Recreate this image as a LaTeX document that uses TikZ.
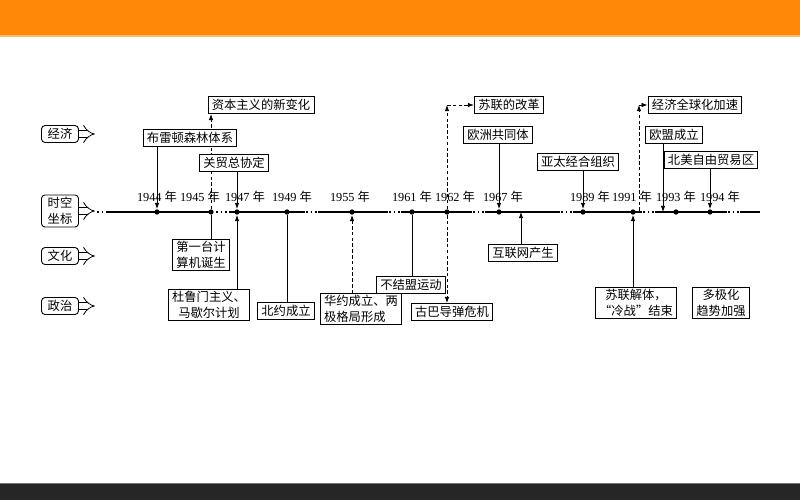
\documentclass[tikz,border=0pt]{standalone}
\usepackage{fontspec}
\setmainfont{Liberation Serif}
\newfontfamily\cjk{Noto Sans CJK SC}
\usetikzlibrary{positioning}
\usetikzlibrary{arrows.meta}
\usetikzlibrary{backgrounds}
\newcommand{\nian}[1]{#1 {\cjk 年}}
\definecolor{barorange}{RGB}{255,136,8}
\definecolor{bardark}{RGB}{38,38,38}
\tikzset{
	event/.style={draw, rectangle, fill=white, line width=0.5pt, inner xsep=2.2pt, inner ysep=1pt, minimum height=0.34cm, align=center, font=\cjk\fontsize{7}{8.8}\selectfont},
	field/.style={draw, rectangle, rounded corners=2pt, fill=white, line width=0.5pt, inner sep=1.5pt, minimum width=0.74cm, minimum height=0.34cm, align=center, font=\cjk\fontsize{7}{8.8}\selectfont},
	yearlbl/.style={inner sep=0pt, font=\fontsize{7}{8}\selectfont},
	yeardot/.style={circle, fill=black, inner sep=0pt, minimum size=3pt},
	% connectors
	plain/.style={line width=0.5pt},
	link/.style={line width=0.5pt, -{Latex[length=3.5pt, width=2.6pt]}},
	dplain/.style={plain, dash pattern=on 2pt off 1.3pt},
	dlink/.style={link, dash pattern=on 2pt off 1.3pt},
	hollow/.style={double, double distance=3.2pt, line width=0.45pt, -{Implies[scale=1.5]}},
	timeline/.style={line width=0.6pt},
	gapline/.style={line width=0.9pt, dash pattern=on 0.9pt off 1.7pt},
}
\begin{document}
\begin{tikzpicture}[x=0.02cm, y=-0.02cm]
	\useasboundingbox (0,0) rectangle (800,500);
	
	% fields on the left
	\node (econ) [field] at (60,134) {经济};
	\node (time) [field] at (60,211) {时空\\坐标};
	\node (cult) [field] at (60,256) {文化};
	\node (pol) [field] at (60,306) {政治};
	\coordinate [right=0.32cm of econ] (econa);
	\coordinate [right=0.32cm of time] (timea);
	\coordinate [right=0.32cm of cult] (culta);
	\coordinate [right=0.32cm of pol] (pola);
	
	% years
	\node (d44) [yeardot] at (157,212) {};
	\node (d45) [yeardot] at (211,212) {};
	\node (d47) [yeardot] at (237,212) {};
	\node (d49) [yeardot] at (287,212) {};
	\node (d55) [yeardot] at (352,212) {};
	\node (d61) [yeardot] at (412,212) {};
	\node (d62) [yeardot] at (447,212) {};
	\node (d67) [yeardot] at (499,212) {};
	\node (d89) [yeardot] at (583,212) {};
	\node (d91) [yeardot] at (633,212) {};
	\node (d93) [yeardot] at (676,212) {};
	\node (d94) [yeardot] at (710,212) {};
	\coordinate (netp) at (521,212);
	\coordinate (eup) at (663,212);
	\coordinate (up91) at (639,211);
	
	\node (y44) [yearlbl] at (157,197) {\nian{1944}};
	\node (y45) [yearlbl] at (200,197) {\nian{1945}};
	\node (y47) [yearlbl] at (245,197) {\nian{1947}};
	\node (y49) [yearlbl] at (292,197) {\nian{1949}};
	\node (y55) [yearlbl] at (350,197) {\nian{1955}};
	\node (y61) [yearlbl] at (412,197) {\nian{1961}};
	\node (y62) [yearlbl] at (455,197) {\nian{1962}};
	\node (y67) [yearlbl] at (503,197) {\nian{1967}};
	\node (y89) [yearlbl] at (590,197) {\nian{1989}};
	\node (y91) [yearlbl] at (632,197) {\nian{1991}};
	\node (y93) [yearlbl] at (676,197) {\nian{1993}};
	\node (y94) [yearlbl] at (720,197) {\nian{1994}};
	
	% economy
	\node (capit) [event] at (261,105) {资本主义的新变化};
	\node (ussr) [event] at (509,105) {苏联的改革};
	\node (glob) [event] at (695,105) {经济全球化加速};
	\node (brt) [event] at (190,138) {布雷顿森林体系};
	\node (eec) [event] at (498,135) {欧洲共同体};
	\node (eu) [event] at (674,135) {欧盟成立};
	\node (gatt) [event] at (234,163) {关贸总协定};
	\node (apec) [event] at (578,162) {亚太经合组织};
	\node (nafta) [event] at (711,160) {北美自由贸易区};
	
	% culture and politics
	\node (first) [event] at (201,255) {第一台计\\算机诞生};
	\node (net) [event] at (523,253) {互联网产生};
	\node (truman) [event] at (209,305) {杜鲁门主义、\\马歇尔计划};
	\node (nato) [event] at (286,311) {北约成立};
	\node (warsaw) [event, align=left] at (361,309) {华约成立、两\\极格局形成};
	\node (nonal) [event] at (411,285) {不结盟运动};
	\node (cuba) [event] at (452,312) {古巴导弹危机};
	\node (sov) [event] at (636,303) {苏联解体，\\“冷战”结束};
	\node (multi) [event] at (721,303) {多极化\\趋势加强};
	
	\begin{scope}[on background layer]
		\fill[barorange] (0,0) rectangle (800,36);
		\draw[barorange!60!white, line width=0.6pt] (0,36) -- (800,36);
		\fill[bardark] (0,483) rectangle (800,500);
		\draw[black!55, line width=0.8pt] (0,483.5) -- (800,483.5);
		
		\draw[hollow] (econ) -- (econa);
		\draw[hollow] (time) -- (timea);
		\draw[hollow] (cult) -- (culta);
		\draw[hollow] (pol) -- (pola);
		
		% time axis
		\draw[gapline] (97,212) -- (108,212);
		\draw[timeline] (108,212) -- (212,212);
		\draw[gapline] (216,212) -- (228,212);
		\draw[timeline] (229,212) -- (305,212);
		\draw[gapline] (306,212) -- (318,212);
		\draw[timeline] (318,212) -- (388,212);
		\draw[gapline] (389,212) -- (401,212);
		\draw[timeline] (401,212) -- (472,212);
		\draw[gapline] (473,212) -- (485,212);
		\draw[timeline] (485,212) -- (560,212);
		\draw[gapline] (561,212) -- (573,212);
		\draw[timeline] (573,212) -- (642,212);
		\draw[gapline] (643,212) -- (655,212);
		\draw[timeline] (655,212) -- (727,212);
		\draw[gapline] (728,212) -- (740,212);
		\draw[timeline] (740,212) -- (760,212);
		
		\draw[link] (brt.south -| d44) -- (d44);
		\draw[dlink] (d45) -- (capit.south -| d45);
		\draw[link] (gatt.south -| d47) -- (d47);
		\draw[plain] (d45) -- (first.north -| d45);
		\draw[link] (truman.north -| d47) -- (d47);
		\draw[plain] (nato.north -| d49) -- (d49);
		\draw[dlink] (warsaw.north -| d55) -- (d55);
		\draw[plain] (nonal.north -| d61) -- (d61);
		\draw[dlink] (d62) -- (cuba.north -| d62);
		\draw[dlink] (d62) -- (d62 |- ussr.west);
		\draw[dlink] (d62 |- ussr.west) -- (ussr.west);
		\draw[link] (eec.south -| d67) -- (d67);
		\draw[link] (net.north -| netp) -- (netp);
		\draw[link] (apec.south -| d89) -- (d89);
		\draw[link] (sov.north -| d91) -- (d91);
		\draw[dlink] (up91) -- (up91 |- glob.west);
		\draw[dlink] (up91 |- glob.west) -- (glob.west);
		\draw[link] (eu.south -| eup) -- (eup);
		\draw[link] (nafta.south -| d94) -- (d94);
	\end{scope}
\end{tikzpicture}
\end{document}
